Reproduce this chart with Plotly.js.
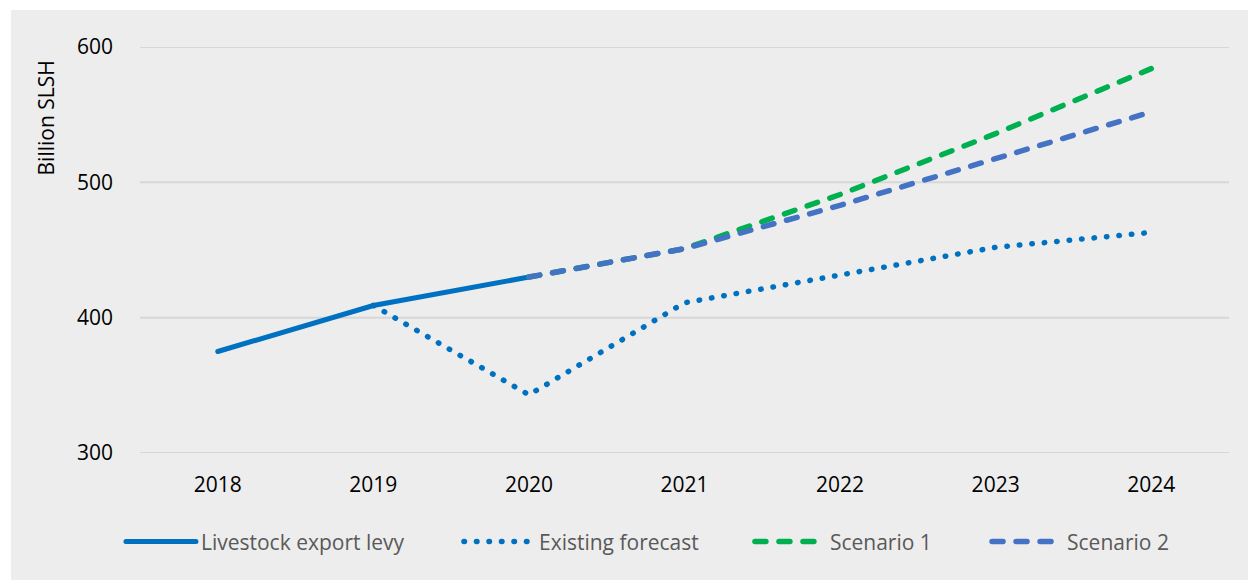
<!DOCTYPE html>
<html>
<head>
<meta charset="utf-8">
<script src="https://cdn.plot.ly/plotly-3.0.1.min.js"></script>
<style>
  html, body { margin: 0; padding: 0; background: #ffffff; width: 1248px; height: 580px; overflow: hidden; }
  #wrap { position: absolute; left: 11px; top: 10px; width: 1237px; height: 570px; background: #ededed; }
  #chart { width: 1237px; height: 570px; }
  .js-line { stroke-linecap: round !important; }
</style>
</head>
<body>
<div id="wrap"><div id="chart"></div></div>
<script>
const years = ['2018', '2019', '2020', '2021', '2022', '2023', '2024'];
const livestockLevy = [375, 409, 430, null, null, null, null];
const existingForecast = [null, 409, 343, 411, 432, 452, 463];
const scenario1 = [null, null, 430, 451, 491, 536, 584];
const scenario2 = [null, null, 430, 451, 483, 517, 552];
const seriesNames = ['Livestock export levy', 'Existing forecast', 'Scenario 1', 'Scenario 2'];
const yTicks = [300, 400, 500, 600];

const FONT = '"Open Sans", "Noto Sans", sans-serif';

const traces = [
  { x: years, y: livestockLevy, name: seriesNames[0], mode: 'lines', legend: 'legend',
    line: { color: '#0070c0', width: 5 } },
  { x: years, y: existingForecast, name: seriesNames[1], mode: 'lines', legend: 'legend2',
    line: { color: '#0070c0', width: 5.5, dash: '0.5px,12px' } },
  { x: years, y: scenario1, name: seriesNames[2], mode: 'lines', legend: 'legend3',
    line: { color: '#00b050', width: 5.5, dash: '11px,13px' } },
  { x: years, y: scenario2, name: seriesNames[3], mode: 'lines', legend: 'legend4',
    line: { color: '#4472c4', width: 5.5, dash: '11px,13px' } }
];

function leg(x) {
  return { x: x, y: -0.219, xanchor: 'left', yanchor: 'middle', orientation: 'h',
    itemwidth: 70, bgcolor: 'rgba(0,0,0,0)', borderwidth: 0,
    font: { family: FONT, size: 21, color: '#595959' } };
}

const gridShapes = yTicks.map(v => ({
  type: 'line', xref: 'paper', yref: 'y', x0: 0, x1: 1, y0: v, y1: v,
  layer: 'below', line: { color: '#d7d7d7', width: 2 }
}));

const layout = {
  width: 1237, height: 570,
  paper_bgcolor: '#ededed', plot_bgcolor: '#ededed',
  margin: { l: 129, r: 19, t: 37, b: 127 },
  font: { family: FONT, size: 21, color: '#000000' },
  showlegend: true,
  legend: leg(-0.0175),
  legend2: leg(0.2929),
  legend3: leg(0.5601),
  legend4: leg(0.7778),
  xaxis: {
    type: 'category', range: [-0.5, 6.5], showgrid: false, zeroline: false, showline: false,
    ticks: '', ticklabelstandoff: 17, tickfont: { family: FONT, size: 21, color: '#000000' }
  },
  yaxis: {
    range: [300, 600], tickvals: yTicks, ticktext: yTicks.map(String),
    showgrid: false, zeroline: false, showline: false,
    ticks: '', ticklabelstandoff: 26, tickfont: { family: FONT, size: 21, color: '#000000' }
  },
  shapes: gridShapes,
  annotations: [{
    text: 'Billion SLSH', xref: 'paper', yref: 'paper', x: -0.0863, y: 0.824,
    xanchor: 'center', yanchor: 'middle', textangle: -90, showarrow: false,
    font: { family: FONT, size: 21, color: '#000000' }
  }],
  hovermode: false
};

Plotly.newPlot('chart', traces, layout, { displayModeBar: false, staticPlot: true });
</script>
</body>
</html>
